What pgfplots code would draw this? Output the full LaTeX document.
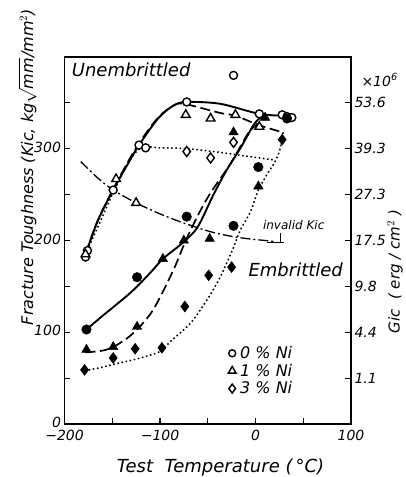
\documentclass[border=0pt]{standalone}
\usepackage{pgfplots}
\pgfplotsset{compat=1.18}
\usepackage{fontspec}
\setmainfont{DejaVu Sans}
\begin{document}
\begin{tikzpicture}[x=1pt,y=1pt]
\begin{axis}[
  at={(0pt,0pt)}, anchor=south west,
  scale only axis, width=286.5pt, height=367pt,
  xmin=-200, xmax=100, ymin=0, ymax=400,
  clip=false,
  axis line style={line width=1.5pt},
  xtick={-200,-100,0,100}, xticklabels={−200,−100,0,100},
  minor xtick={-150,-50,50},
  ytick={0,100,200,300}, yticklabels={0,100,200,300},
  minor ytick={50,150,250,350},
  ytick pos=left, xtick pos=bottom,
  tick align=inside,
  major tick length=6pt, minor tick length=6pt,
  every tick/.style={line width=1.2pt, black},
  ticklabel style={font=\fontsize{14}{14}\selectfont\itshape},
  xticklabel style={yshift=-2.5pt},
  yticklabel style={yshift=1.5pt},
  legend style={draw=none, fill=none, at={(axis cs:-34,88)}, anchor=north west,
    font=\fontsize{16}{16}\selectfont\itshape, row sep=2pt,
    nodes={inner ysep=1pt}},
  legend cell align=left,
  legend image code/.code={\path[draw=none, fill=none] (0pt,-4pt) rectangle (12pt,4pt); \draw[#1] plot coordinates {(6pt,0pt)};},
]
\addlegendimage{only marks, mark=*, mark size=3.5pt, mark options={fill=white, draw=black, line width=1.4pt}}
\addlegendimage{only marks, mark=triangle*, mark size=4.5pt, mark options={fill=white, draw=black, line width=1.4pt}}
\addlegendimage{only marks, mark=diamond*, mark size=4.5pt, mark options={fill=white, draw=black, line width=1.4pt}}
\legend{0 \% Ni, 1 \% Ni, 3 \% Ni}

% ---------- curves: unembrittled ----------
\addplot[smooth, no marks, line width=1.9pt, forget plot] coordinates {
(-178,185)(-165,222)(-149,255)(-135,281)(-122,304)(-102,333)(-86,347)(-72,351)(-37,349)(4,338)(30,336)};
\addplot[smooth, no marks, line width=1.7pt, dash pattern=on 10pt off 4.5pt, forget plot] coordinates {
(-178,185)(-165,222)(-149,256)(-135,283)(-122,306)(-102,334)(-86,347)(-75,349)(-37,339)(-21,336)(3,326)(28,318)};
\addplot[smooth, no marks, line width=1.5pt, dash pattern=on 1.6pt off 2.6pt, forget plot] coordinates {
(-178,185)(-165,215)(-150,250)(-135,282)(-120,301)(-100,301)(-71,300)(-37,296)(-10,292)(18,288)};
% invalid Kic
\addplot[smooth, no marks, line width=1.3pt, dash pattern=on 10pt off 3pt on 2pt off 3pt, forget plot] coordinates {
(-183,286)(-165,268)(-149,255)(-125,241)(-100,229)(-75,219)(-45,209)(-16,203)(20,199)};

% ---------- curves: embrittled ----------
\addplot[smooth, no marks, line width=1.9pt, forget plot] coordinates {
(-177,103)(-160,118)(-131,143)(-110,165)(-97,180)(-78,196)(-61,214)(-44,250)(-30,277)(-15,302)(-2,326)(5,334)};
\addplot[smooth, no marks, line width=1.7pt, dash pattern=on 10pt off 4.5pt, forget plot] coordinates {
(-178,78)(-160,80)(-149,84)(-135,93)(-123,104)(-110,120)(-100,138)(-85,170)(-73,200)(-60,228)(-47,252)(-26,284)(-7,318)(3,327)};
\addplot[smooth, no marks, line width=1.5pt, dash pattern=on 1.6pt off 2.6pt, forget plot] coordinates {
(-179,58)(-160,62)(-149,65)(-124,71)(-100,79)(-89,90)(-68,110)(-51,135)(-37,160)(-24,190)(-16,211)(-5,232)(3,255)(12,272)(20,285)(25,297)(28,312)(29,318)};

% ---------- markers: unembrittled (open) ----------
\addplot[only marks, mark=*, mark size=4pt, mark options={fill=white, draw=black, line width=1.4pt}, forget plot] coordinates {
(-178,182)(-176,189)(-149,255)(-122,304)(-115,301)(-72,351)(-23,380)(4,338)(28,337)(33,335)(38,334)};
\addplot[only marks, mark=triangle*, mark size=5pt, mark options={fill=white, draw=black, line width=1.4pt}, forget plot] coordinates {
(-178,185)(-146,267)(-125,241)(-73,337)(-47,333)(-21,337)(4,324)};
\addplot[only marks, mark=diamond*, mark size=5pt, mark options={fill=white, draw=black, line width=1.4pt}, forget plot] coordinates {
(-72,297)(-47,290)(-23,307)};

% ---------- markers: embrittled (filled) ----------
\addplot[only marks, mark=*, mark size=4.8pt, mark options={fill=black, draw=black}, forget plot] coordinates {
(-177,103)(-124,160)(-72,226)(-23,216)(3,280)(33,333)};
\addplot[only marks, mark=triangle*, mark size=5.5pt, mark options={fill=black, draw=black}, forget plot] coordinates {
(-177,81)(-149,84)(-124,106)(-97,180)(-75,200)(-48,202)(-23,318)(3,259)(10,334)};
\addplot[only marks, mark=diamond*, mark size=5.5pt, mark options={fill=black, draw=black}, forget plot] coordinates {
(-179,59)(-149,72)(-126,82)(-98,83)(-74,128)(-49,162)(-25,171)(28,310)};

% ---------- texts ----------
\node[anchor=west, font=\fontsize{18}{18}\selectfont\itshape] at (axis cs:-196,386) {Unembrittled};
\node[anchor=west, font=\fontsize{18}{18}\selectfont\itshape] at (axis cs:-11,168) {Embrittled};
\node[font=\fontsize{12}{12}\selectfont\itshape] at (axis cs:40,217) {invalid Kic};
\draw[line width=1.1pt] (axis cs:26,208) -- (axis cs:26,198);
\draw[line width=1.1pt] (axis cs:12,198) -- (axis cs:30,198);
\node[font=\fontsize{18}{18}\selectfont\itshape] at (axis cs:-36.6,-48) {Test\ \ Temperature (\,°C)};
\node[rotate=90, font=\fontsize{16}{16}\selectfont\itshape] at (axis cs:-238.5,280) {Fracture Toughness (Kic, kg$\sqrt{\textit{mm}}$/mm$^2$)};
\node[rotate=90, font=\fontsize{15}{15}\selectfont\itshape] at (axis cs:146,166) {Gic\ \ ( erg / cm$^2$ )};
\node[font=\fontsize{14}{14}\selectfont\itshape] at (axis cs:130,375) {×10\textsuperscript{6}};
\end{axis}
\begin{axis}[
  at={(0pt,0pt)}, anchor=south west,
  scale only axis, width=286.5pt, height=367pt,
  xmin=-200, xmax=100, ymin=0, ymax=400,
  axis x line=none, axis y line*=right,
  axis line style={line width=1.5pt},
  ytick={50,100,150,200,250,300,350},
  yticklabels={1.1,4.4,9.8,17.5,27.3,39.3,53.6},
  tick align=inside, major tick length=6pt,
  every tick/.style={line width=1.2pt, black},
  ticklabel style={font=\fontsize{14}{14}\selectfont\itshape},
]
\addplot[draw=none, forget plot] coordinates {(0,0)};
\end{axis}
\pgfresetboundingbox
\useasboundingbox (-64.5,-53) rectangle (340.5,424);
\end{tikzpicture}
\end{document}
